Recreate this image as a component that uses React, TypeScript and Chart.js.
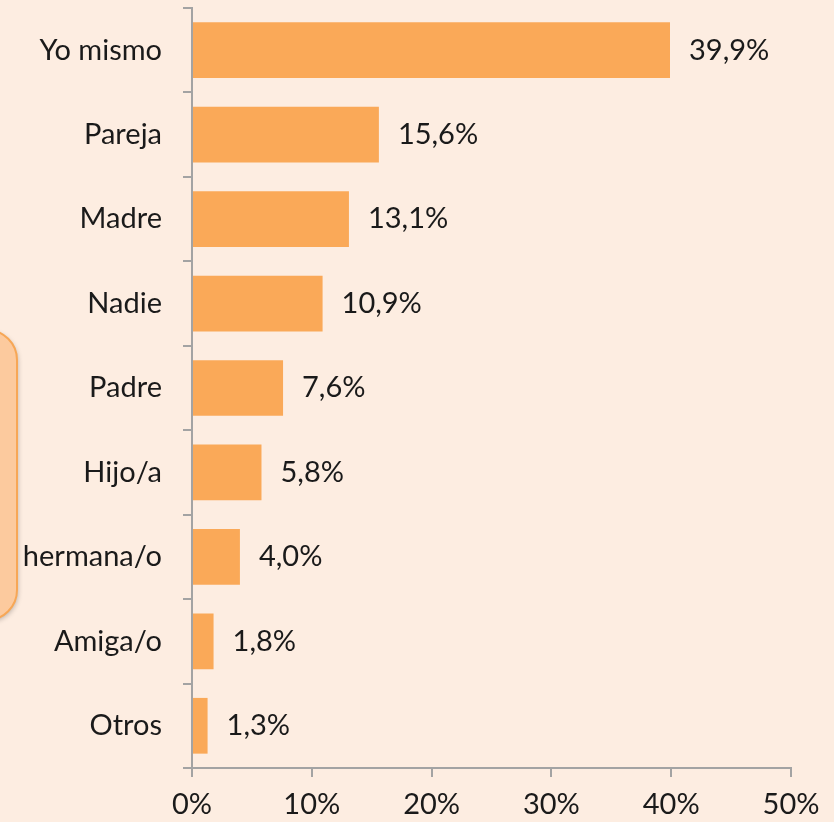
import React, { useEffect, useRef } from "react";
import { Chart, registerables } from "chart.js";

Chart.register(...registerables);

const categories = ["Yo mismo", "Pareja", "Madre", "Nadie", "Padre", "Hijo/a", "hermana/o", "Amiga/o", "Otros"];
const values = [39.9, 15.6, 13.1, 10.9, 7.6, 5.8, 4.0, 1.8, 1.3];
const xTicks = [0, 10, 20, 30, 40, 50];

const FONT = "Lato, 'Noto Sans', sans-serif";
const FSIZE = 29;
const BG = "#FDEDE1";
const BAR = "#FAA958";
const AXIS = "#A3A3A3";
const TEXT = "#1A1A1A";

const fmt = (v: number) => v.toFixed(1).replace(".", ",") + "%";

const boxPlugin = {
  id: "bgBox",
  beforeDraw(chart: any) {
    const ctx = chart.ctx;
    ctx.save();
    ctx.fillStyle = BG;
    ctx.fillRect(0, 0, chart.width, chart.height);
    const x = -60, y = 330, w = 77, h = 290, r = 30;
    ctx.shadowColor = "rgba(0,0,0,0.25)";
    ctx.shadowBlur = 5;
    ctx.shadowOffsetX = 1;
    ctx.shadowOffsetY = 2;
    ctx.beginPath();
    ctx.roundRect(x, y, w, h, r);
    ctx.fillStyle = "#FCCA9E";
    ctx.fill();
    ctx.shadowColor = "transparent";
    ctx.lineWidth = 2;
    ctx.strokeStyle = "#F7A756";
    ctx.stroke();
    ctx.restore();
  },
};

const labelPlugin = {
  id: "valLabels",
  afterDatasetsDraw(chart: any) {
    const ctx = chart.ctx;
    const meta = chart.getDatasetMeta(0);
    ctx.save();
    ctx.font = `${FSIZE}px ${FONT}`;
    ctx.fillStyle = TEXT;
    ctx.textAlign = "left";
    ctx.textBaseline = "middle";
    meta.data.forEach((bar: any, i: number) => {
      ctx.fillText(fmt(values[i]), bar.x + 19, bar.y);
    });
    ctx.restore();
  },
};

export default function App() {
  const ref = useRef<HTMLCanvasElement>(null);
  useEffect(() => {
    document.body.style.margin = "0";
    const chart = new Chart(ref.current!, {
      type: "bar",
      data: {
        labels: categories,
        datasets: [
          {
            data: values,
            backgroundColor: BAR,
            borderWidth: 0,
            categoryPercentage: 0.66,
            barPercentage: 1,
          },
        ],
      },
      options: {
        indexAxis: "y",
        animation: false,
        responsive: false,
        layout: { padding: { top: 8, right: 43, left: 0, bottom: 0 } },
        plugins: { legend: { display: false }, tooltip: { enabled: false } },
        scales: {
          x: {
            min: 0,
            max: 50,
            afterBuildTicks: (s: any) => {
              s.ticks = xTicks.map((v) => ({ value: v }));
            },
            afterFit: (s: any) => {
              s.height = 54;
              s.paddingLeft = 0;
              s.paddingRight = 0;
            },
            grid: { drawOnChartArea: false, color: AXIS, lineWidth: 2, tickLength: 9 },
            border: { display: true, color: AXIS, width: 2 },
            ticks: {
              color: TEXT,
              font: { family: FONT, size: FSIZE },
              padding: 10,
              callback: (v: any) => v + "%",
            },
          },
          y: {
            afterFit: (s: any) => {
              s.width = 192;
              s.paddingTop = 0;
              s.paddingBottom = 0;
            },
            grid: { drawOnChartArea: false, color: AXIS, lineWidth: 2, tickLength: 9, offset: true },
            border: { display: true, color: AXIS, width: 2 },
            ticks: {
              color: TEXT,
              font: { family: FONT, size: FSIZE },
              padding: 21,
            },
          },
        },
      },
      plugins: [boxPlugin, labelPlugin],
    });
    return () => chart.destroy();
  }, []);
  return (
    <div style={{ width: 834, height: 822 }}>
      <canvas ref={ref} width={834} height={822} style={{ display: "block" }} />
    </div>
  );
}
